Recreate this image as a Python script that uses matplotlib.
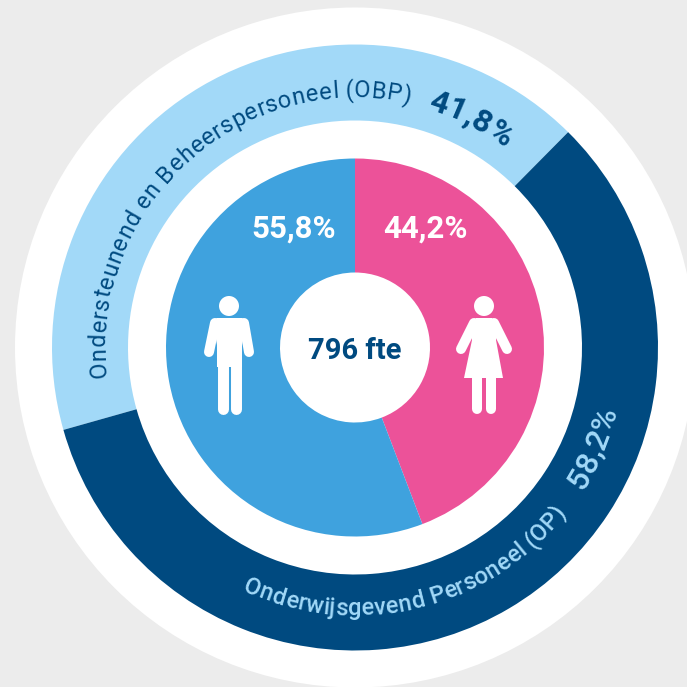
import numpy as np
import matplotlib
matplotlib.use('Agg')
import matplotlib.pyplot as plt
from matplotlib.font_manager import FontProperties
from matplotlib.patches import Circle, Polygon

plt.rcParams['font.family'] = ['Roboto', 'DejaVu Sans']

# staff type, share in %
staff_labels = ['Ondersteunend en Beheerspersoneel (OBP)', 'Onderwijsgevend Personeel (OP)']
staff_values = [41.8, 58.2]
staff_texts = ['41,8%', '58,2%']
# gender, share in %
gender_values = [44.2, 55.8]
gender_texts = ['44,2%', '55,8%']
total_text = '796 fte'

LIGHT = '#a2d9f8'
DARK = '#004a80'
BLUE = '#3fa2de'
PINK = '#ec5299'
BG = '#ececec'

# pixel coords with y going up
CX, CY = 355, 339.5


def py(y):
    return 687 - y


fig = plt.figure(figsize=(6.87, 6.87), dpi=100, facecolor=BG)
ax = fig.add_axes([0, 0, 1, 1])
ax.add_patch(Circle((CX, CY), 340, fc='white', ec='none', zorder=0))

ax.pie(staff_values, colors=[LIGHT, DARK], startangle=45.3, center=(CX, CY), radius=303,
       wedgeprops={'width': 76, 'linewidth': 0})
ax.pie(gender_values, colors=[PINK, BLUE], startangle=90, counterclock=False, center=(CX, CY),
       radius=189, wedgeprops={'width': 114, 'linewidth': 0})
ax.set_xlim(0, 687)
ax.set_ylim(0, 687)
ax.axis('off')

renderer = fig.canvas.get_renderer()


def arc_text(s, r, a0, a1, size, weight, color):
    # one text per letter, spread from angle a0 to a1
    prop = FontProperties(family='Roboto', size=size, weight=weight)

    def w(t):
        return renderer.get_text_width_height_descent(t + '|', prop, False)[0]
    total = w(s) - w('')
    for i, c in enumerate(s):
        mid = (w(s[:i]) + w(s[:i + 1])) / 2 - w('')
        a = a0 + (a1 - a0) * mid / total
        rot = a - 90 if a1 < a0 else a + 90
        x = CX + r * np.cos(np.radians(a))
        y = CY + r * np.sin(np.radians(a))
        ax.text(x, y, c, fontproperties=prop, color=color, rotation=rot, rotation_mode='anchor',
                ha='center', va='baseline')


arc_text(staff_labels[0], 250, 186.8, 77.3, 17, 'normal', DARK)
arc_text(staff_texts[0], 249, 73.3, 53, 23, 'bold', DARK)
arc_text(staff_labels[1], 268, -114.9, -38, 17, 'medium', LIGHT)
arc_text(staff_texts[1], 269, -32.4, -13.5, 23, 'medium', LIGHT)

ax.text(425, py(229), gender_texts[0], color='white', fontsize=22.5, fontweight='bold', ha='center', va='center')
ax.text(293.5, py(229), gender_texts[1], color='white', fontsize=22.5, fontweight='bold', ha='center', va='center')
ax.text(CX, py(351), total_text, color=DARK, fontsize=21, fontweight='bold', ha='center', va='center')


def limb(x0, y0, x1, y1, lw=7.2):
    ax.plot([x0, x1], [py(y0), py(y1)], color='white', lw=lw, solid_capstyle='round', zorder=5)


# man
ax.add_patch(Circle((229, py(306)), 10, fc='white', ec='none', zorder=5))
ax.add_patch(Polygon([(x, py(y)) for x, y in [(213, 321), (217, 318), (242, 318), (246, 321),
                                              (242, 345), (242, 367), (217, 367), (217, 345)]],
                     fc='white', ec='none', zorder=5))
limb(215, 323, 209, 352)
limb(244, 323, 249, 352)
limb(222.5, 364, 222.5, 408.5, 7.9)
limb(235.5, 364, 235.5, 408.5, 7.9)

# woman
ax.add_patch(Circle((484, py(306)), 10, fc='white', ec='none', zorder=5))
ax.add_patch(Polygon([(x, py(y)) for x, y in [(476, 318), (492, 318), (497, 325), (496, 340), (503, 378),
                                              (464, 378), (472, 340), (471, 325)]],
                     fc='white', ec='none', zorder=5))
limb(474, 323, 461, 349)
limb(494, 323, 507, 349)
limb(477, 370, 477, 408.5)
limb(491, 370, 491, 408.5)

fig.savefig('out.png', dpi=100, facecolor=BG)
